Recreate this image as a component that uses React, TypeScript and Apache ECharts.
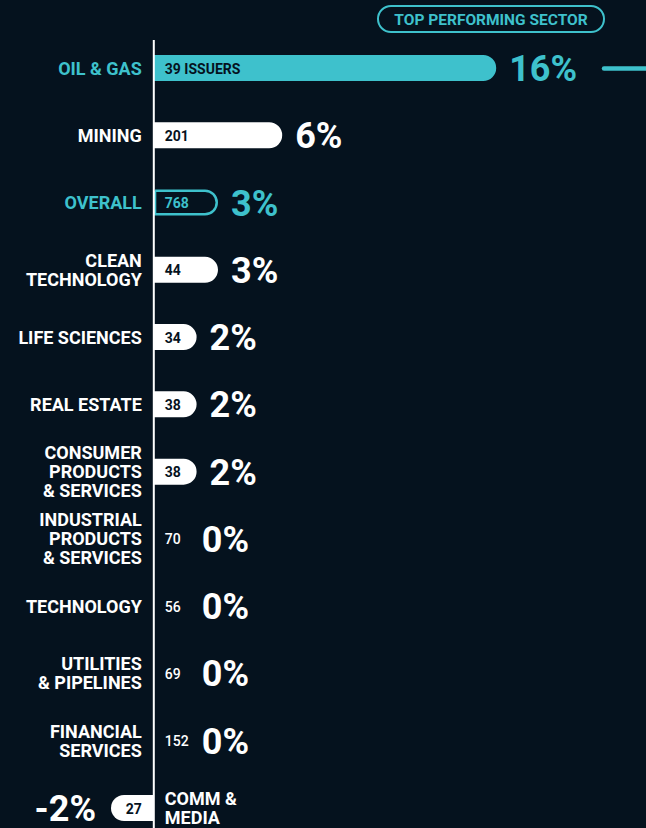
import React, { useEffect, useRef } from "react";
import * as echarts from "echarts";

const categories = [
  "OIL & GAS",
  "MINING",
  "OVERALL",
  "CLEAN\nTECHNOLOGY",
  "LIFE SCIENCES",
  "REAL ESTATE",
  "CONSUMER\nPRODUCTS\n& SERVICES",
  "INDUSTRIAL\nPRODUCTS\n& SERVICES",
  "TECHNOLOGY",
  "UTILITIES\n& PIPELINES",
  "FINANCIAL\nSERVICES",
  "COMM &\nMEDIA",
];
const returnsPct = [16, 6, 3, 3, 2, 2, 2, 0, 0, 0, 0, -2];
const issuerCounts = [39, 201, 768, 44, 34, 38, 38, 70, 56, 69, 152, 27];
const badgeText = "TOP PERFORMING SECTOR";

const BG = "#05121e";
const TEAL = "#3ec1cc";
const WHITE = "#ffffff";
const DARK = "#05121e";
const FONT = "Roboto, 'Noto Sans', sans-serif";
const TOP_INDEX = 0;
const OVERALL_INDEX = 2;

export default function App() {
  const ref = useRef<HTMLDivElement>(null);
  useEffect(() => {
    document.body.style.margin = "0";
    document.body.style.background = BG;
    const chart = echarts.init(ref.current!, null, { renderer: "svg" });

    const barData = returnsPct.map((v, i) => {
      const neg = v < 0;
      const radius = neg ? [13, 0, 0, 13] : [0, 13, 13, 0];
      if (i === TOP_INDEX) return { value: v, itemStyle: { color: TEAL, borderRadius: radius } };
      if (i === OVERALL_INDEX)
        return {
          value: v,
          itemStyle: { color: "rgba(0,0,0,0)", borderColor: TEAL, borderWidth: 2.5, borderRadius: radius },
        };
      return { value: v, itemStyle: { color: WHITE, borderRadius: radius } };
    });

    const option: any = {
      animation: false,
      backgroundColor: BG,
      grid: { left: 4, width: 642, top: 68, height: 740, containLabel: false },
      xAxis: { type: "value", min: -7, max: 23, show: false },
      yAxis: {
        type: "category",
        data: categories,
        inverse: true,
        boundaryGap: false,
        show: false,
      },
      series: [
        {
          type: "bar",
          data: barData,
          barWidth: 26,
          silent: true,
          z: 2,
        },
        {
          type: "custom",
          clip: false,
          silent: true,
          z: 6,
          data: categories.map((_, i) => [0, i]),
          encode: { x: 0, y: 1 },
          renderItem: (params: any, api: any) => {
            const i = params.dataIndex;
            const v = returnsPct[i];
            const zero = api.coord([0, i]);
            const end = api.coord([v, i]);
            const y = zero[1];
            const neg = v < 0;
            const hl = i === TOP_INDEX || i === OVERALL_INDEX;
            const children: any[] = [];
            children.push({
              type: "text",
              z2: 10,
              style: {
                text: categories[i],
                x: neg ? zero[0] + 11 : zero[0] - 12,
                y: y,
                align: neg ? "left" : "right",
                verticalAlign: "middle",
                fill: hl ? TEAL : WHITE,
                fontFamily: FONT,
                fontWeight: "bold",
                fontSize: 18,
                lineHeight: 19,
              },
            });
            const countText = i === TOP_INDEX ? `${issuerCounts[i]} ISSUERS` : `${issuerCounts[i]}`;
            children.push({
              type: "text",
              z2: 10,
              style: {
                text: countText,
                x: neg ? zero[0] - 12 : zero[0] + 11,
                y: y + 0.5,
                align: neg ? "right" : "left",
                verticalAlign: "middle",
                fill: v === 0 ? WHITE : i === OVERALL_INDEX ? TEAL : DARK,
                fontFamily: FONT,
                fontWeight: v === 0 ? 500 : "bold",
                fontSize: 14,
              },
            });
            children.push({
              type: "text",
              z2: 10,
              style: {
                text: `${v}%`,
                x: neg ? end[0] - 15 : Math.max(end[0], zero[0] + 35) + 13,
                y: y + 1,
                align: neg ? "right" : "left",
                verticalAlign: "middle",
                fill: hl ? TEAL : WHITE,
                fontFamily: FONT,
                fontWeight: "bold",
                fontSize: 36,
                lineHeight: 30,
              },
            });
            return { type: "group", children };
          },
        },
      ],
    };
    chart.setOption(option);

    const zx = chart.convertToPixel({ xAxisIndex: 0 }, 0) as number;
    const topY = chart.convertToPixel({ yAxisIndex: 0 }, 0) as number;
    chart.setOption({
      graphic: [
        {
          type: "line",
          shape: { x1: zx, y1: 40, x2: zx, y2: 828 },
          style: { stroke: WHITE, lineWidth: 2 },
          z: 10,
        },
        {
          type: "rect",
          shape: { x: 378, y: 6, width: 226, height: 26, r: 13 },
          style: { fill: "none", stroke: TEAL, lineWidth: 2 },
        },
        {
          type: "text",
          style: {
            text: badgeText,
            x: 491,
            y: 19.5,
            align: "center",
            verticalAlign: "middle",
            fill: TEAL,
            fontFamily: FONT,
            fontWeight: "bold",
            fontSize: 15.5,
          },
        },
        {
          type: "line",
          shape: { x1: 604, y1: topY + 0.5, x2: 650, y2: topY + 0.5 },
          style: { stroke: TEAL, lineWidth: 4.5, lineCap: "round" },
        },
      ],
    });

    return () => chart.dispose();
  }, []);
  return <div ref={ref} style={{ width: 646, height: 828, background: BG }} />;
}
